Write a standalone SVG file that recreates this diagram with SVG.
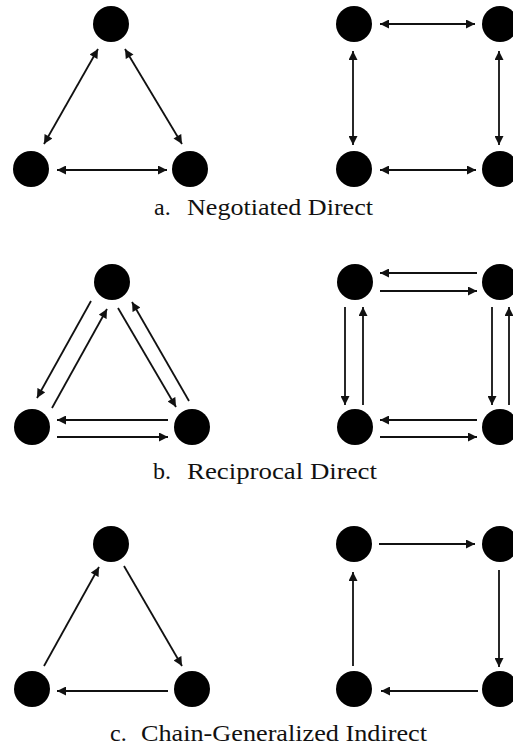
<svg xmlns="http://www.w3.org/2000/svg" width="513" height="750" viewBox="0 0 513 750">
<style>
.node{fill:#000}
.edge{stroke:#111;stroke-width:1.8;fill:none;marker-end:url(#ah)}
.both{marker-start:url(#ah)}
.lbl{font-family:"Liberation Serif","Times New Roman",serif;font-size:24px;fill:#111}
</style>
<defs>
<marker id="ah" viewBox="0 0 10 10" refX="10" refY="5" markerWidth="10" markerHeight="9" markerUnits="userSpaceOnUse" orient="auto-start-reverse">
<path d="M0,0 L10,5 L0,10 z" fill="#111"/>
</marker>
</defs>
<rect width="513" height="750" fill="#fff"/>
<!-- Panel a -->
<g id="a-tri-top"><circle class="node" cx="111" cy="24" r="18"/></g>
<g id="a-tri-left"><circle class="node" cx="31" cy="169" r="18"/></g>
<g id="a-tri-right"><circle class="node" cx="190" cy="169" r="18"/></g>
<g id="a-sq-tl"><circle class="node" cx="354" cy="24" r="18"/></g>
<g id="a-sq-tr"><circle class="node" cx="500" cy="24" r="18"/></g>
<g id="a-sq-bl"><circle class="node" cx="354" cy="169" r="18"/></g>
<g id="a-sq-br"><circle class="node" cx="500" cy="169" r="18"/></g>
<!-- Panel b -->
<g id="b-tri-top"><circle class="node" cx="112" cy="282" r="18"/></g>
<g id="b-tri-left"><circle class="node" cx="32" cy="427" r="18"/></g>
<g id="b-tri-right"><circle class="node" cx="192" cy="427" r="18"/></g>
<g id="b-sq-tl"><circle class="node" cx="355" cy="282" r="18"/></g>
<g id="b-sq-tr"><circle class="node" cx="500" cy="282" r="18"/></g>
<g id="b-sq-bl"><circle class="node" cx="355" cy="427" r="18"/></g>
<g id="b-sq-br"><circle class="node" cx="500" cy="427" r="18"/></g>
<!-- Panel c -->
<g id="c-tri-top"><circle class="node" cx="111" cy="544" r="18"/></g>
<g id="c-tri-left"><circle class="node" cx="32" cy="689" r="18"/></g>
<g id="c-tri-right"><circle class="node" cx="192" cy="689" r="18"/></g>
<g id="c-sq-tl"><circle class="node" cx="354" cy="544" r="18"/></g>
<g id="c-sq-tr"><circle class="node" cx="500" cy="544" r="18"/></g>
<g id="c-sq-bl"><circle class="node" cx="354" cy="689" r="18"/></g>
<g id="c-sq-br"><circle class="node" cx="500" cy="689" r="18"/></g>
<g id="connectors">
<!-- a -->
<line class="edge both" x1="98" y1="49" x2="44" y2="144"/>
<line class="edge both" x1="125" y1="49" x2="182" y2="144"/>
<line class="edge both" x1="57" y1="170" x2="167" y2="170"/>
<line class="edge both" x1="380" y1="24" x2="475" y2="24"/>
<line class="edge both" x1="353" y1="51" x2="353" y2="145"/>
<line class="edge both" x1="499" y1="51" x2="499" y2="145"/>
<line class="edge both" x1="380" y1="170" x2="476" y2="170"/>
<!-- b -->
<line class="edge" x1="91" y1="301" x2="37" y2="398"/>
<line class="edge" x1="52" y1="408" x2="107" y2="309"/>
<line class="edge" x1="118" y1="308" x2="176" y2="407"/>
<line class="edge" x1="189" y1="401" x2="132" y2="302"/>
<line class="edge" x1="168" y1="420" x2="57" y2="420"/>
<line class="edge" x1="57" y1="437" x2="168" y2="437"/>
<line class="edge" x1="477" y1="273" x2="380" y2="273"/>
<line class="edge" x1="380" y1="291" x2="477" y2="291"/>
<line class="edge" x1="345" y1="307" x2="345" y2="405"/>
<line class="edge" x1="363" y1="405" x2="363" y2="307"/>
<line class="edge" x1="492" y1="307" x2="492" y2="405"/>
<line class="edge" x1="509" y1="405" x2="509" y2="307"/>
<line class="edge" x1="477" y1="420" x2="380" y2="420"/>
<line class="edge" x1="380" y1="437" x2="477" y2="437"/>
<!-- c -->
<line class="edge" x1="44" y1="666" x2="99" y2="567"/>
<line class="edge" x1="124" y1="566" x2="182" y2="666"/>
<line class="edge" x1="168" y1="691" x2="57" y2="691"/>
<line class="edge" x1="379" y1="544" x2="475" y2="544"/>
<line class="edge" x1="499" y1="570" x2="499" y2="667"/>
<line class="edge" x1="478" y1="691" x2="381" y2="691"/>
<line class="edge" x1="353" y1="666" x2="353" y2="572"/>
</g>
<g id="labels">
<text class="lbl" y="215"><tspan x="154">a.</tspan><tspan x="187" textLength="186" lengthAdjust="spacingAndGlyphs">Negotiated Direct</tspan></text>
<text class="lbl" y="479"><tspan x="153">b.</tspan><tspan x="187" textLength="190" lengthAdjust="spacingAndGlyphs">Reciprocal Direct</tspan></text>
<text class="lbl" y="741"><tspan x="110">c.</tspan><tspan x="141" textLength="286" lengthAdjust="spacingAndGlyphs">Chain-Generalized Indirect</tspan></text>
</g>
</svg>
